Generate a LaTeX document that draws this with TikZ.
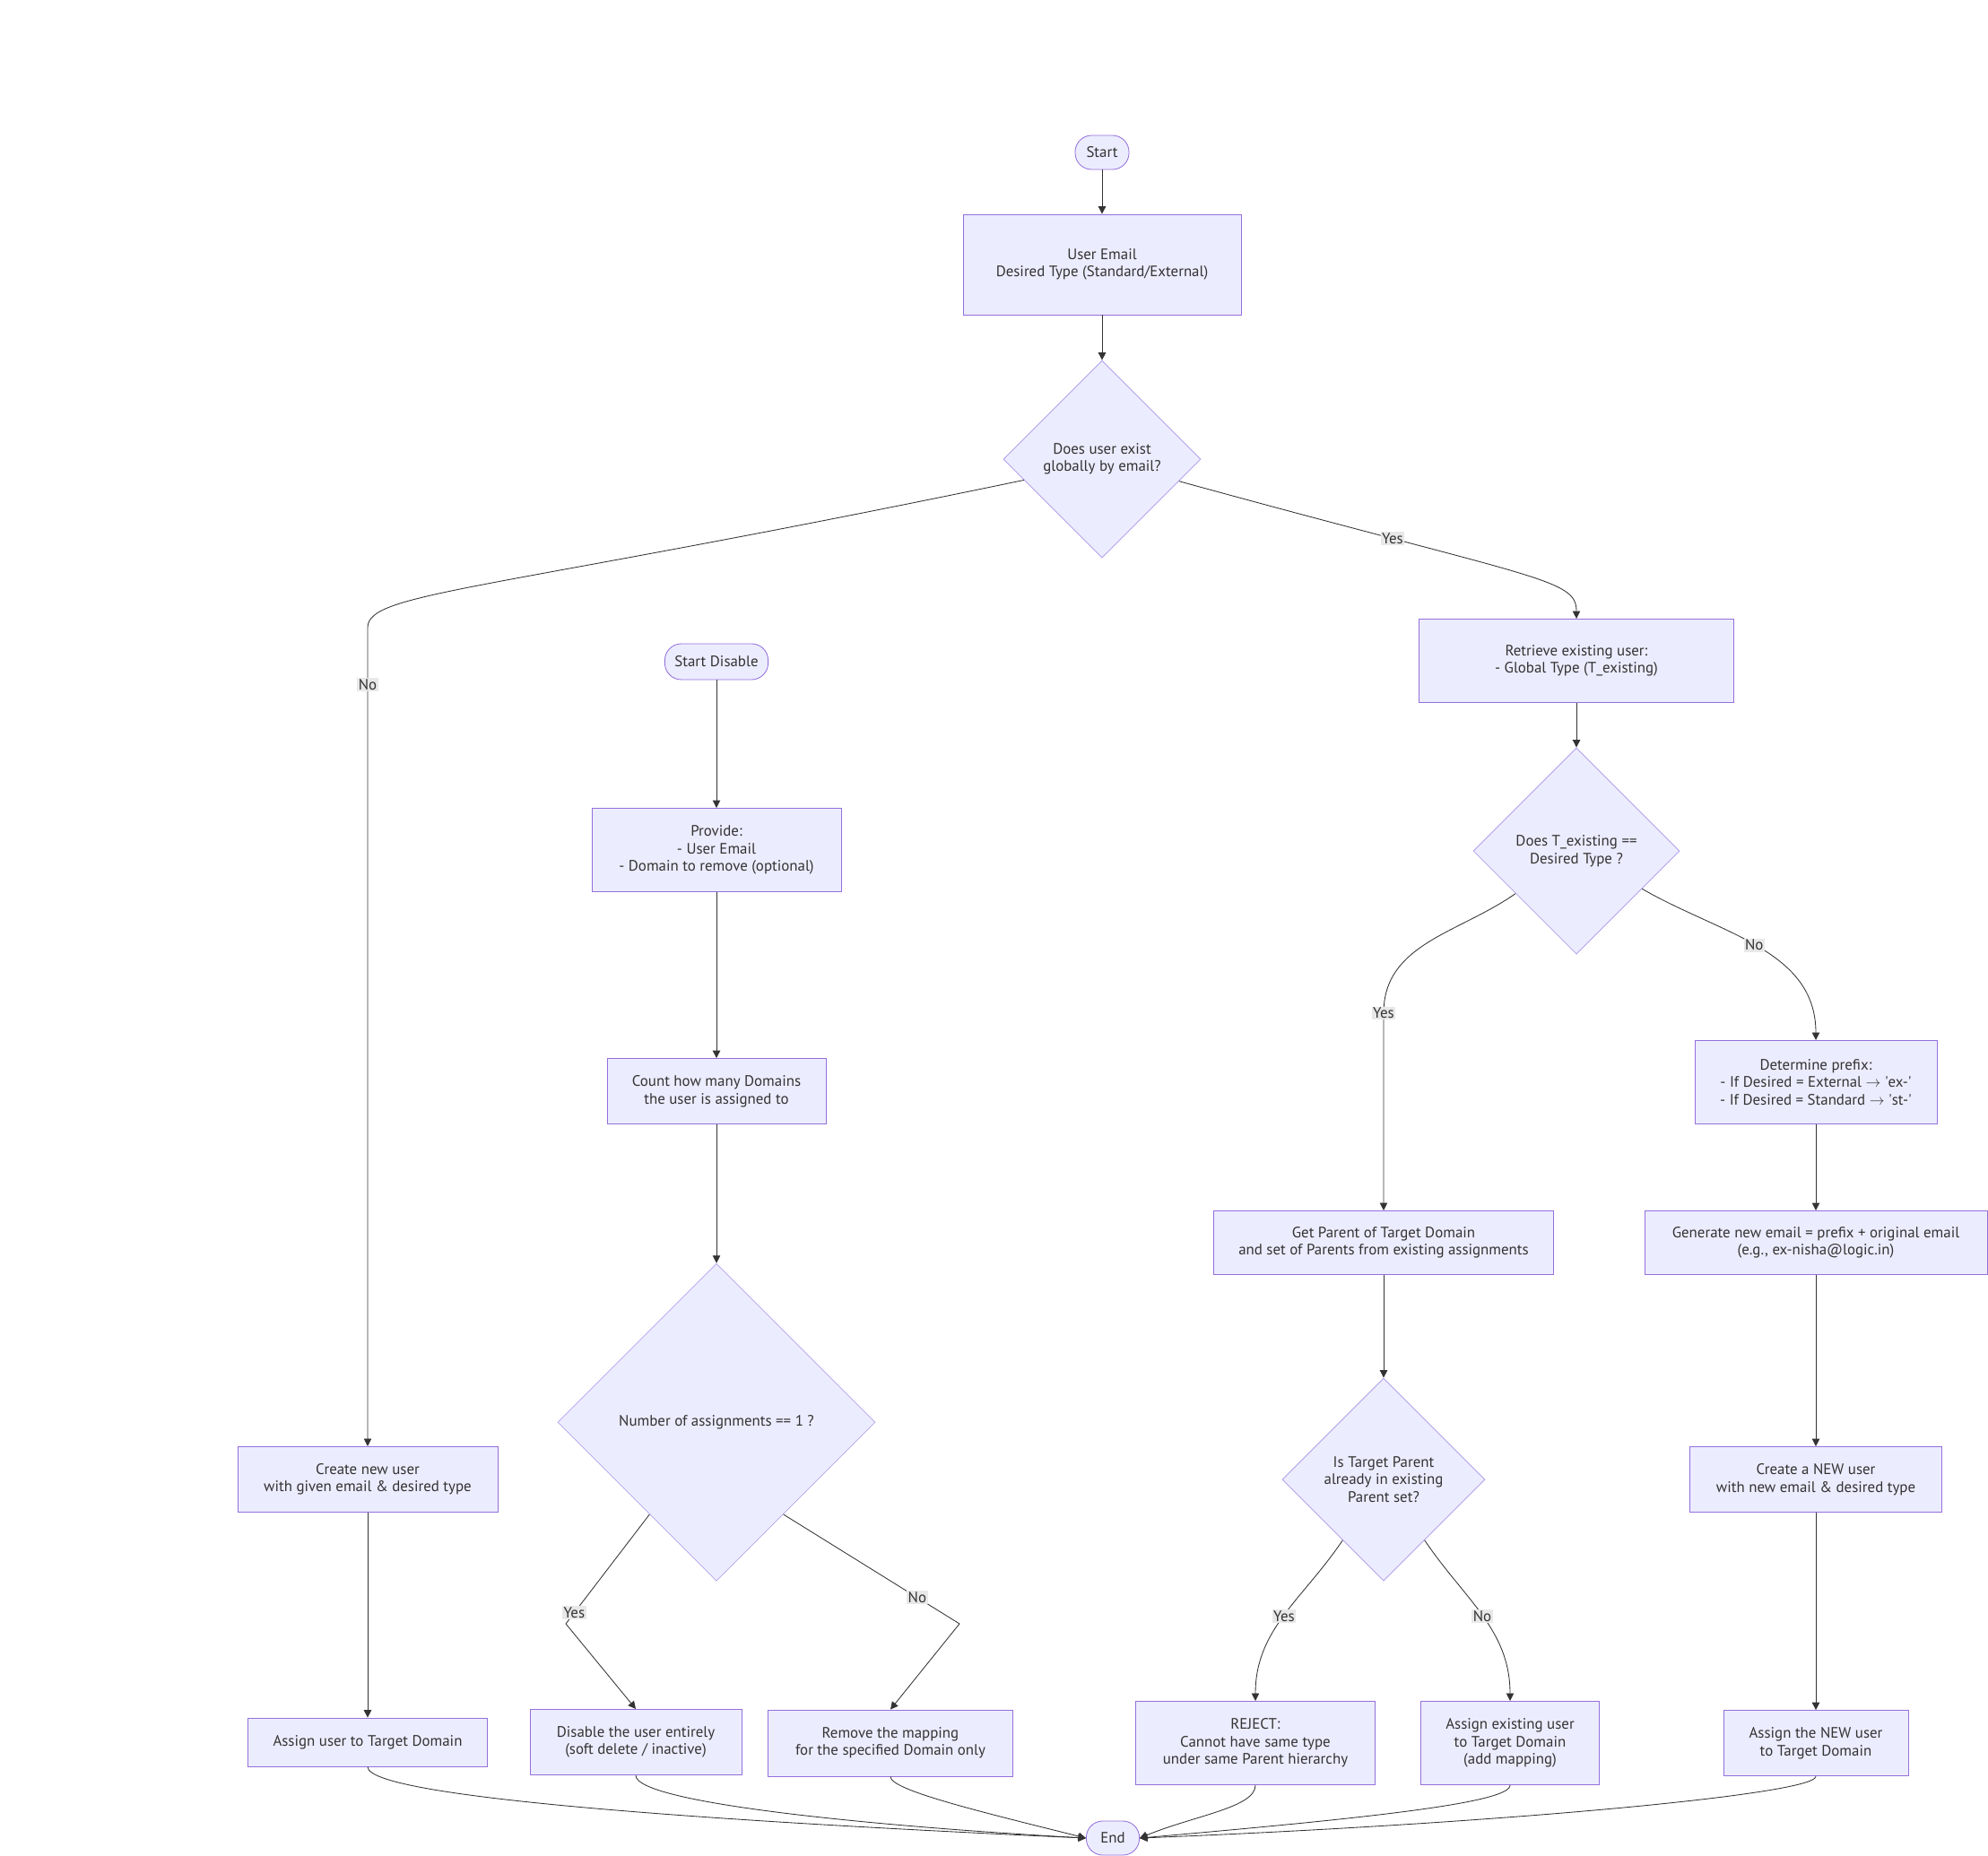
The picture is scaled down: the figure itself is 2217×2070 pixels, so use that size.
\documentclass[tikz,border=0pt]{standalone}
\usepackage{fontspec}
\setmainfont{PT Sans}
\usetikzlibrary{shapes.geometric,arrows.meta,positioning}

\definecolor{boxfill}{HTML}{ECECFF}
\definecolor{boxline}{HTML}{9370DB}
\definecolor{decline}{HTML}{B3A2EC}
\definecolor{inktext}{HTML}{333333}
\definecolor{lblfill}{HTML}{E8E8E8}

\tikzset{
  stepbox/.style={draw=boxline, fill=boxfill, rectangle, line width=0.6pt, text=inktext, align=center, font=\fontsize{12}{13.8}\selectfont},
  terminal/.style={stepbox, rounded corners=0.46cm},
  decision/.style={stepbox, diamond, draw=decline, inner sep=0pt},
  flow/.style={-{Triangle[length=6pt,width=6pt]}, draw=inktext, line width=0.6pt},
  lbl/.style={fill=lblfill, text=inktext, inner sep=1pt, font=\fontsize{12}{13.8}\selectfont}
}

\begin{document}
\begin{tikzpicture}[x=0.025cm, y=0.025cm]
	% Fix the page to the size of the reference
	\useasboundingbox (0,0) rectangle (2217,-2070);
	
	% Draw the start block and the input block below it
	\node (start) [terminal, minimum width=1.5cm, minimum height=0.95cm] at (1229,-170) {Start};
	\node (input) [stepbox, minimum width=7.75cm, minimum height=2.8cm, below of=start, node distance=3.125cm] {User Email\\Desired Type (Standard/External)};
	
	% Draw the first check
	\node (exists) [decision, minimum width=5.5cm, minimum height=5.5cm, below of=input, node distance=5.425cm] {Does user exist\\globally by email?};
	
	% Draw the branch for a user that already exists
	\node (retrieve) [stepbox, minimum width=8.78cm, minimum height=2.33cm] at (1758,-737) {Retrieve existing user:\\- Global Type (T\_existing)};
	\node (sametype) [decision, minimum width=5.75cm, minimum height=5.75cm, below of=retrieve, node distance=5.3cm] {Does T\_existing ==\\Desired Type ?};
	\node (getparent) [stepbox, minimum width=9.48cm, minimum height=1.78cm] at (1543,-1386) {Get Parent of Target Domain\\and set of Parents from existing assignments};
	\node (inparent) [decision, minimum width=5.65cm, minimum height=5.65cm, below of=getparent, node distance=6.6cm] {Is Target Parent\\already in existing\\Parent set?};
	\node (reject) [stepbox, minimum width=6.68cm, minimum height=2.33cm] at (1400,-1944) {REJECT:\\Cannot have same type\\under same Parent hierarchy};
	\node (assignold) [stepbox, minimum width=4.98cm, minimum height=2.33cm] at (1684,-1944) {Assign existing user\\to Target Domain\\(add mapping)};
	
	% Draw the branch that makes a new prefixed user
	\node (prefix) [stepbox, minimum width=6.75cm, minimum height=2.33cm] at (2025,-1207) {Determine prefix:\\- If Desired = External $\rightarrow$ \textquotesingle ex-\textquotesingle\\- If Desired = Standard $\rightarrow$ \textquotesingle st-\textquotesingle};
	\node (newmail) [stepbox, minimum width=9.55cm, minimum height=1.78cm, below of=prefix, node distance=4.475cm] {Generate new email = prefix + original email\\(e.g., ex-nisha@logic.in)};
	\node (createnew) [stepbox, minimum width=7.03cm, minimum height=1.83cm, below of=newmail, node distance=6.6cm] {Create a NEW user\\with new email \& desired type};
	\node (assignnew) [stepbox, minimum width=5.15cm, minimum height=1.83cm, below of=createnew, node distance=7.35cm] {Assign the NEW user\\to Target Domain};
	
	% Draw the branch for a user that does not exist yet
	\node (create) [stepbox, minimum width=7.25cm, minimum height=1.83cm] at (410,-1650) {Create new user\\with given email \& desired type};
	\node (assign) [stepbox, minimum width=6.68cm, minimum height=1.35cm, below of=create, node distance=7.325cm] {Assign user to Target Domain};
	
	% Draw the disable flow
	\node (startdis) [terminal, minimum width=2.88cm, minimum height=1cm] at (799,-738) {Start Disable};
	\node (provide) [stepbox, minimum width=6.95cm, minimum height=2.33cm, below of=startdis, node distance=5.25cm] {Provide:\\- User Email\\- Domain to remove (optional)};
	\node (count) [stepbox, minimum width=6.1cm, minimum height=1.83cm, below of=provide, node distance=6.725cm] {Count how many Domains\\the user is assigned to};
	\node (single) [decision, minimum width=8.85cm, minimum height=8.85cm, below of=count, node distance=9.225cm] {Number of assignments == 1 ?};
	\node (disable) [stepbox, minimum width=5.9cm, minimum height=1.83cm] at (709,-1943) {Disable the user entirely\\(soft delete / inactive)};
	\node (unmap) [stepbox, minimum width=6.83cm, minimum height=1.85cm] at (993,-1944) {Remove the mapping\\for the specified Domain only};
	
	% Draw the end block
	\node (finish) [terminal, minimum width=1.48cm, minimum height=0.95cm] at (1241,-2050) {End};
	
	% Bends of the connectors
	\coordinate (nobend) at (410,-700);
	\coordinate (yesbend) at (1543,-1130);
	\coordinate (yescut) at (631,-1811);
	\coordinate (nocut) at (1070,-1811);
	
	% Connect the blocks with arrows
	\draw[flow] (start) -- (input);
	\draw[flow] (input) -- (exists);
	\draw[flow] (exists.195) .. controls +(-600,-125) and +(0,40) .. (nobend) -- node[lbl, pos=0.07] {No} (create);
	\draw[flow] (exists.-16) .. controls +(400,-110) and +(0,45) .. node[lbl, pos=0.25] {Yes} (retrieve.north);
	\draw[flow] (retrieve) -- (sametype);
	\draw[flow] (sametype.215) to[out=215, in=90] (yesbend) node[lbl] {Yes} -- (getparent);
	\draw[flow] (sametype.-30) to[out=-30, in=90] node[lbl, pos=0.48] {No} (prefix.north);
	\draw[flow] (prefix) -- (newmail);
	\draw[flow] (newmail) -- (createnew);
	\draw[flow] (createnew) -- (assignnew);
	\draw[flow] (getparent) -- (inparent);
	\draw[flow] (inparent.236) to[out=236, in=90] node[lbl] {Yes} (reject.north);
	\draw[flow] (inparent.-56) to[out=-56, in=90] node[lbl] {No} (assignold.north);
	\draw[flow] (create) -- (assign);
	\draw[flow] (startdis) -- (provide);
	\draw[flow] (provide) -- (count);
	\draw[flow] (count) -- (single);
	\draw[flow] (single.234) -- node[lbl, pos=0.9] {Yes} (yescut) -- (disable.north);
	\draw[flow] (single.-54) -- node[lbl, pos=0.76] {No} (nocut) -- (unmap.north);
	
	% All branches meet at the end block
	\draw[flow] (assign.south) .. controls +(0,-35) and +(-400,18) .. (finish.west);
	\draw[flow] (disable.south) .. controls +(0,-30) and +(-250,14) .. (finish.west);
	\draw[flow] (unmap.south) .. controls +(0,-15) and +(-120,30) .. (finish.west);
	\draw[flow] (reject.south) .. controls +(0,-25) and +(60,25) .. (finish.east);
	\draw[flow] (assignold.south) .. controls +(0,-20) and +(250,22) .. (finish.east);
	\draw[flow] (assignnew.south) .. controls +(0,-20) and +(400,16) .. (finish.east);
\end{tikzpicture}
\end{document}
